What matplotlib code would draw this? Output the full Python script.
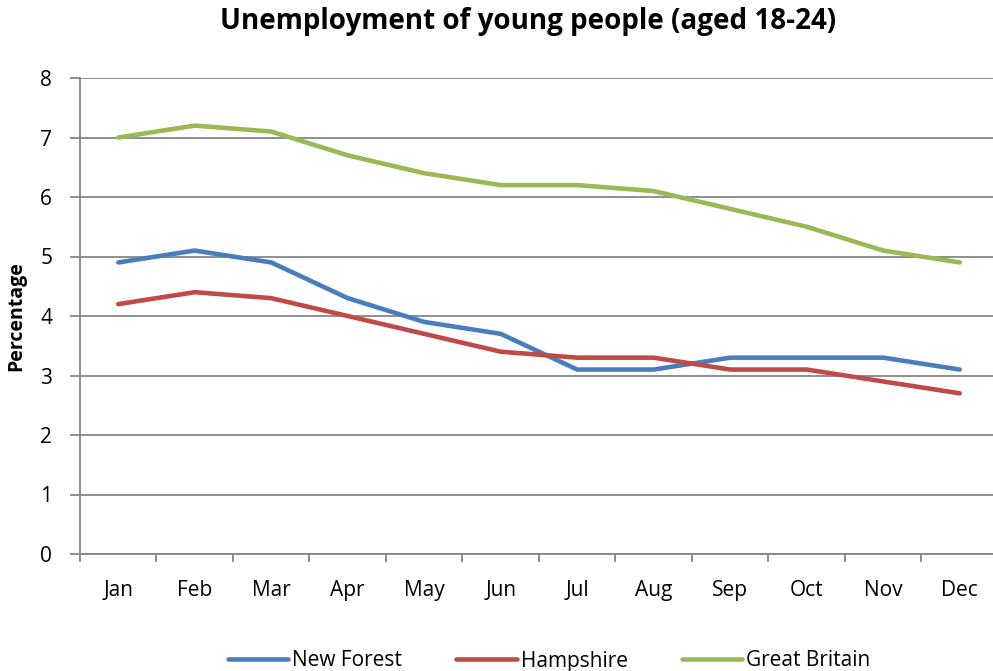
import matplotlib
matplotlib.use("Agg")
import matplotlib.pyplot as plt
import numpy as np

plt.rcParams['font.family'] = ['Open Sans', 'DejaVu Sans']

months = ['Jan', 'Feb', 'Mar', 'Apr', 'May', 'Jun',
          'Jul', 'Aug', 'Sep', 'Oct', 'Nov', 'Dec']
new_forest = [4.9, 5.1, 4.9, 4.3, 3.9, 3.7, 3.1, 3.1, 3.3, 3.3, 3.3, 3.1]
hampshire = [4.2, 4.4, 4.3, 4.0, 3.7, 3.4, 3.3, 3.3, 3.1, 3.1, 2.9, 2.7]
great_britain = [7.0, 7.2, 7.1, 6.7, 6.4, 6.2, 6.2, 6.1, 5.8, 5.5, 5.1, 4.9]

fig = plt.figure(figsize=(9.93, 6.71), dpi=100)
ax = fig.add_axes([80 / 993, 1 - 554 / 671, 1 - 80 / 993 + 0.005, (554 - 78) / 671])

x = np.arange(len(months))
ax.plot(x, new_forest, color='#4a7ebb', lw=3.3, label='New Forest', solid_capstyle='round')
ax.plot(x, hampshire, color='#be4b48', lw=3.3, label='Hampshire', solid_capstyle='round')
ax.plot(x, great_britain, color='#98b954', lw=3.3, label='Great Britain', solid_capstyle='round')

ax.set_xlim(-0.5, len(months) - 0.5)
ax.set_ylim(0, 8)
ax.set_yticks(range(0, 9))
ax.yaxis.grid(True, color='#868686', lw=1.3)
ax.set_axisbelow(True)

# month labels centred between boundary ticks
ax.set_xticks(np.arange(-0.5, len(months), 1.0))
ax.set_xticklabels([])
ax.set_xticks(x, minor=True)
ax.set_xticklabels(months, minor=True, fontsize=15)
ax.tick_params(axis='x', which='minor', length=0, pad=19)
ax.tick_params(axis='x', which='major', length=6, color='#868686', width=1.3, direction='out')
ax.tick_params(axis='y', length=7, color='#868686', width=1.3, labelsize=15, pad=13)

for side in ['top', 'right']:
    ax.spines[side].set_visible(False)
for side in ['left', 'bottom']:
    ax.spines[side].set_color('#868686')
    ax.spines[side].set_linewidth(1.3)

ax.set_ylabel('Percentage', fontsize=14, fontweight='bold', labelpad=10)
fig.text(0.532, 1 - 22 / 671, 'Unemployment of young people (aged 18-24)',
         fontsize=20, fontweight='bold', ha='center', va='center')

fig.legend(loc='center', bbox_to_anchor=(0.553, 1 - 661 / 671), ncol=3,
           frameon=False, fontsize=15, handlelength=2.9, handletextpad=0.2,
           columnspacing=2.6)

fig.savefig('out.png', dpi=100)
